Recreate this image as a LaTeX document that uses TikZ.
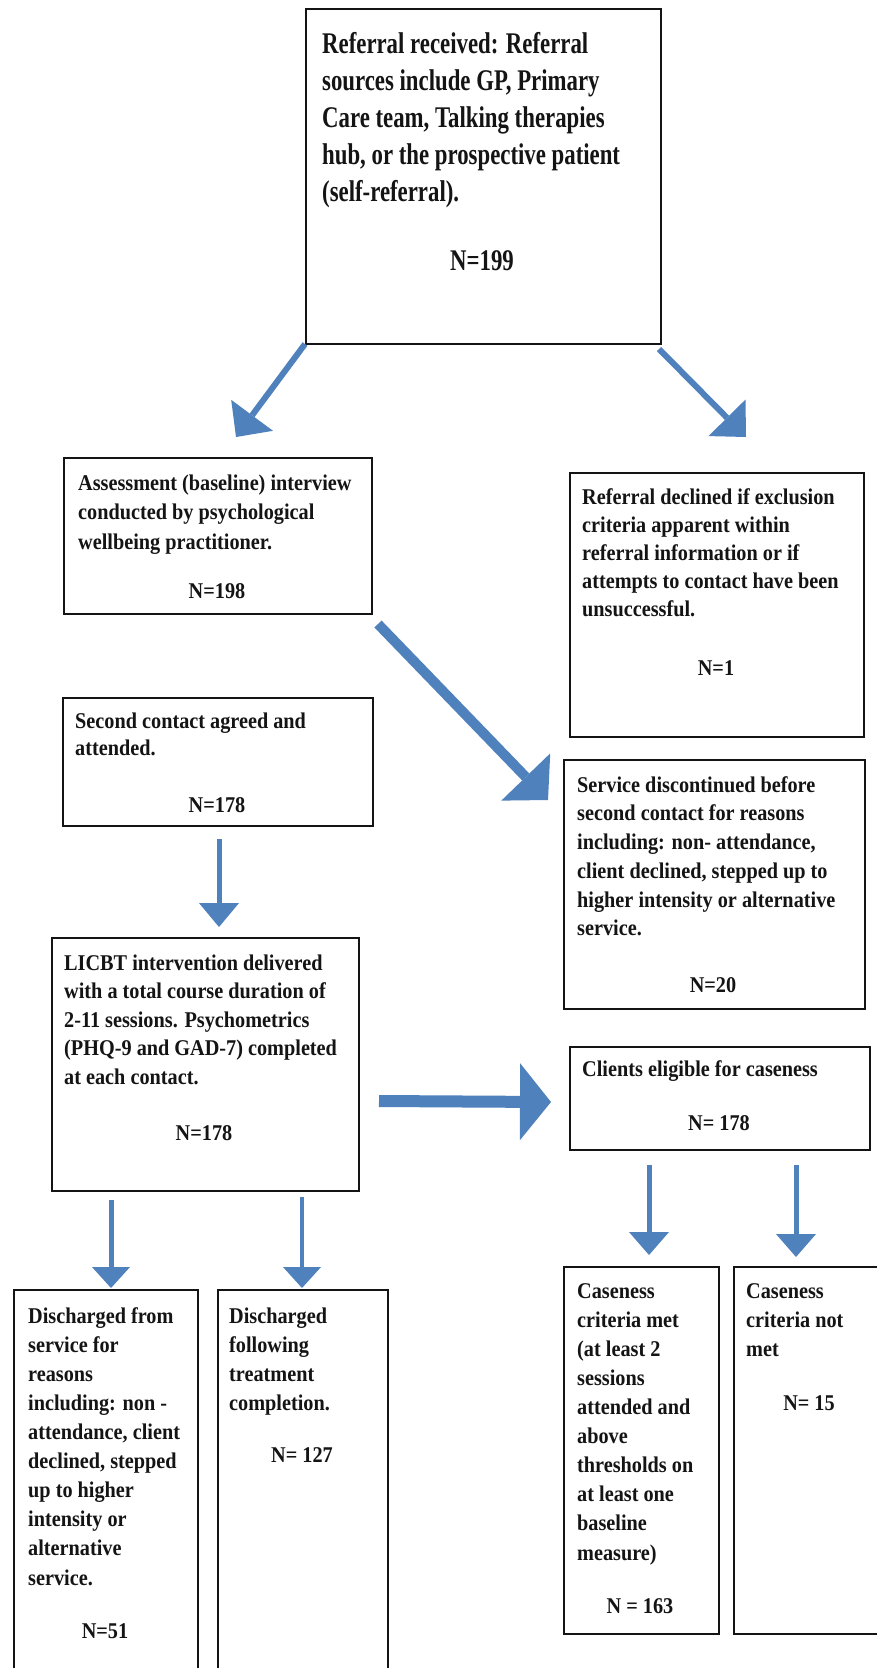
\documentclass[tikz,border=0pt]{standalone}
\usepackage{fontspec}
\setmainfont{Liberation Serif}
\newfontfamily\bodyf[FakeStretch=0.9]{Liberation Serif}
\newfontfamily\topf[FakeStretch=0.76]{Liberation Serif}
\usetikzlibrary{arrows.meta,calc}
\definecolor{arrblue}{RGB}{79,129,189}
\definecolor{inkc}{RGB}{20,20,20}
\tikzset{
  boxrect/.style={draw=inkc, line width=2pt, inner sep=0pt, anchor=north west},
  toptext/.style={font=\topf\bfseries\fontsize{30}{37}\selectfont, text=inkc, align=left, inner sep=0pt, anchor=north west},
  topnum/.style={font=\topf\bfseries\fontsize{30}{37}\selectfont, text=inkc, inner sep=0pt, anchor=base},
  bodytext/.style={font=\bodyf\bfseries\fontsize{22.5}{#1}\selectfont, text=inkc, align=left, inner sep=0pt, anchor=north west},
  bodytext/.default=29,
  numtext/.style={font=\bodyf\bfseries\fontsize{22.5}{29}\selectfont, text=inkc, inner sep=0pt, anchor=base},
  blockarrow/.style={draw=arrblue, line width=#1},
}
\begin{document}
\begin{tikzpicture}[x=1pt,y=-1pt]
\path[use as bounding box, fill=white] (0,0) rectangle (877,1668);
\clip (0,0) rectangle (877,1668);

% boxes
\node[boxrect, minimum width=355pt, minimum height=335pt] (ref) at (305,8) {};
\node[boxrect, minimum width=308pt, minimum height=156pt] (assess) at (63,457) {};
\node[boxrect, minimum width=294pt, minimum height=264pt] (decl) at (569,472) {};
\node[boxrect, minimum width=310pt, minimum height=128pt] (second) at (62,697) {};
\node[boxrect, minimum width=301pt, minimum height=249pt] (disc) at (563,759) {};
\node[boxrect, minimum width=307pt, minimum height=253pt] (licbt) at (51,937) {};
\node[boxrect, minimum width=300pt, minimum height=103pt] (elig) at (569,1046) {};
\node[boxrect, minimum width=184pt, minimum height=400pt] (dfrom) at (13,1289) {};
\node[boxrect, minimum width=170pt, minimum height=400pt] (dfoll) at (217,1289) {};
\node[boxrect, minimum width=155pt, minimum height=367pt] (cmet) at (563,1266) {};
\node[boxrect, minimum width=152pt, minimum height=367pt] (cnot) at (733,1266) {};

% texts
\node[toptext] (reft) at (322,27.1) {\strut Referral received: Referral\\sources include GP, Primary\\Care team, Talking therapies\\hub, or the prospective patient\\(self-referral).};
\node[topnum] (refn) at (482,270) {N=199};

\node[bodytext=29.5] (assesst) at (78,469.4) {\strut Assessment (baseline) interview\\conducted by psychological\\wellbeing practitioner.};
\node[numtext] (assessn) at (217,598) {N=198};

\node[bodytext=28] (declt) at (582,484.4) {\strut Referral declined if exclusion\\criteria apparent within\\referral information or if\\attempts to contact have been\\unsuccessful.};
\node[numtext] (decln) at (716,675) {N=1};

\node[bodytext=27] (secondt) at (75,709.1) {\strut Second contact agreed and\\attended.};
\node[numtext] (secondn) at (217,812) {N=178};

\node[bodytext=28.7] (disct) at (577,771.9) {\strut Service discontinued before\\second contact for reasons\\including: non- attendance,\\client declined, stepped up to\\higher intensity or alternative\\service.};
\node[numtext] (discn) at (713,992) {N=20};

\node[bodytext=28.5] (licbtt) at (64,950) {\strut LICBT intervention delivered\\with a total course duration of\\2-11 sessions. Psychometrics\\(PHQ-9 and GAD-7) completed\\at each contact.};
\node[numtext] (licbtn) at (204,1140) {N=178};

\node[numtext, anchor=base west] (eligt) at (582,1076) {Clients eligible for caseness};
\node[numtext] (elign) at (719,1130) {N= 178};

\node[bodytext=29.1] (dfromt) at (28,1302.6) {\strut Discharged from\\service for\\reasons\\including: non -\\attendance, client\\declined, stepped\\up to higher\\intensity or\\alternative\\service.};
\node[numtext] (dfromn) at (105,1638) {N=51};

\node[bodytext=29.1] (dfollt) at (229,1302.6) {\strut Discharged\\following\\treatment\\completion.};
\node[numtext] (dfolln) at (302,1462) {N= 127};

\node[bodytext=29.1] (cmett) at (577,1277.6) {\strut Caseness\\criteria met\\(at least 2\\sessions\\attended and\\above\\thresholds on\\at least one\\baseline\\measure)};
\node[numtext] (cmetn) at (640,1613) {N = 163};

\node[bodytext=29.1] (cnott) at (746,1277.6) {\strut Caseness\\criteria not\\met};
\node[numtext] (cnotn) at (809,1410) {N= 15};

% arrows
\draw[blockarrow=6pt, -{Triangle[width=52pt,length=27pt,line width=0pt]}] ($(ref.south west)+(0,-1)$) -- ($(assess.north)+(18,-20)$);
\draw[blockarrow=6pt, -{Triangle[width=52pt,length=27pt,line width=0pt]}] ($(ref.south east)+(-3,4)$) -- ($(decl.north)+(29,-35)$);
\draw[blockarrow=10pt, -{Triangle[width=68pt,length=32pt,line width=0pt]}] ($(assess.south east)+(5,9)$) -- ($(disc.north west)+(-15,41)$);
\draw[blockarrow=5pt, -{Triangle[width=40pt,length=24pt,line width=0pt]}] ($(second.south)+(1,12)$) -- ($(second.south |- licbt.north)+(1,-10)$);
\draw[blockarrow=12pt, -{Triangle[width=77pt,length=31pt,line width=0pt]}] ($(licbt.north east)+(19,164)$) -- ($(elig.west)+(-18,3.5)$);
\draw[blockarrow=5pt, -{Triangle[width=38pt,length=21pt,line width=0pt]}] ($(dfrom.north |- licbt.south)+(5,8)$) -- ($(dfrom.north)+(5,-1)$);
\draw[blockarrow=4pt, -{Triangle[width=38pt,length=21pt,line width=0pt]}] ($(dfoll.north |- licbt.south)+(-1,5)$) -- ($(dfoll.north)+(-1,-1)$);
\draw[blockarrow=5pt, -{Triangle[width=40pt,length=23pt,line width=0pt]}] ($(cmet.north |- elig.south)+(7.5,14)$) -- ($(cmet.north)+(7.5,-11)$);
\draw[blockarrow=5pt, -{Triangle[width=40pt,length=23pt,line width=0pt]}] ($(cnot.north |- elig.south)+(-14,14)$) -- ($(cnot.north)+(-14,-9)$);
\end{tikzpicture}
\end{document}
